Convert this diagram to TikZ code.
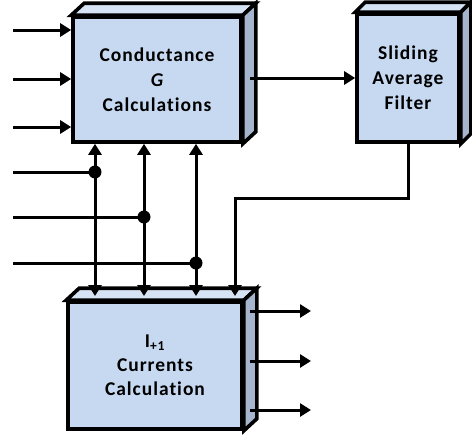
\documentclass[tikz,border=0pt]{standalone}
\usepackage{fontspec}
\setmainfont{Carlito}[LetterSpace=5,Ligatures=NoCommon]
\usetikzlibrary{arrows.meta,calc}
\definecolor{frontc}{HTML}{C6D9F1}
\definecolor{topc}{HTML}{D6E3F5}
\definecolor{sidec}{HTML}{A4B5CD}
\tikzset{
  blk/.style={draw=black,line width=3.6pt,fill=frontc,align=center,inner sep=0pt,
    font=\fontsize{19.5}{25}\selectfont\bfseries},
  face/.style={draw=black,line width=3.6pt,line join=miter},
  conn/.style={line width=3pt},
  arr/.style={conn,-{Triangle[length=11pt,width=13pt]}},
  barr/.style={conn,{Triangle[length=11pt,width=13pt]}-{Triangle[length=11pt,width=13pt]}},
  junction/.style={circle,fill=black,inner sep=0pt,minimum size=13pt},
}
\begin{document}
\begin{tikzpicture}[x=1pt,y=-1pt]
\useasboundingbox (0,0) rectangle (472,437);
% Conductance block
\node[blk,minimum width=168pt,minimum height=125pt] (G) at (157,79.5)
  {Conductance\\{\bfseries\itshape G}\\Calculations};
\draw[face,fill=topc] (G.north west) -- ++(13,-12) -- ($(G.north east)+(13,-12)$) -- (G.north east) -- cycle;
\draw[face,fill=sidec] (G.north east) -- ++(13,-12) -- ($(G.south east)+(13,-12)$) -- (G.south east) -- cycle;
% Filter block
\node[blk,minimum width=102pt,minimum height=128pt] (F) at (408,78)
  {Sliding\\Average\\Filter};
\draw[face,fill=topc] (F.north west) -- ++(10,-10) -- ($(F.north east)+(10,-10)$) -- (F.north east) -- cycle;
\draw[face,fill=sidec] (F.north east) -- ++(10,-10) -- ($(F.south east)+(10,-10)$) -- (F.south east) -- cycle;
% Currents block
\node[blk,minimum width=174pt,minimum height=127pt,font=\fontsize{19.5}{24}\selectfont\bfseries] (I) at (155,365.5)
  {I\textsubscript{+1}\\Currents\\Calculation};
\draw[face,fill=topc] (I.north west) -- ++(13,-12) -- ($(I.north east)+(13,-12)$) -- (I.north east) -- cycle;
\draw[face,fill=sidec] (I.north east) -- ++(13,-12) -- ($(I.south east)+(13,-12)$) -- (I.south east) -- cycle;
% coordinates
\coordinate (in1) at (13,30);
\coordinate (in2) at (13,79);
\coordinate (in3) at (13,127);
\coordinate (la) at (13,172);
\coordinate (lb) at (13,217);
\coordinate (lc) at (13,263);
\coordinate (ct) at (0,296);
\coordinate (fb) at (235,198);
\coordinate (gs) at (250,78);
\coordinate (s1) at (250,311);
\coordinate (s2) at (250,361);
\coordinate (s3) at (250,410);
\coordinate (o1) at (311,311);
\coordinate (o2) at (311,361);
\coordinate (o3) at (311,410);
\node[junction] (d1) at (95,172) {};
\node[junction] (d2) at (144,217) {};
\node[junction] (d3) at (196,263) {};
% inputs
\draw[arr] (in1) -- (in1 -| G.west);
\draw[arr] (in2) -- (in2 -| G.west);
\draw[arr] (in3) -- (in3 -| G.west);
\draw[conn] (la) -- (d1.center);
\draw[conn] (lb) -- (d2.center);
\draw[conn] (lc) -- (d3.center);
% bidirectional verticals
\draw[barr] (d1 |- G.south) -- (d1 |- ct);
\draw[barr] (d2 |- G.south) -- (d2 |- ct);
\draw[barr] (d3 |- G.south) -- (d3 |- ct);
% G to filter
\draw[arr] (gs) -- (gs -| F.west);
% filter to currents
\draw[arr] (F.south) |- (fb) -- (fb |- ct);
% outputs
\draw[arr] (s1) -- (o1);
\draw[arr] (s2) -- (o2);
\draw[arr] (s3) -- (o3);
\end{tikzpicture}
\end{document}
